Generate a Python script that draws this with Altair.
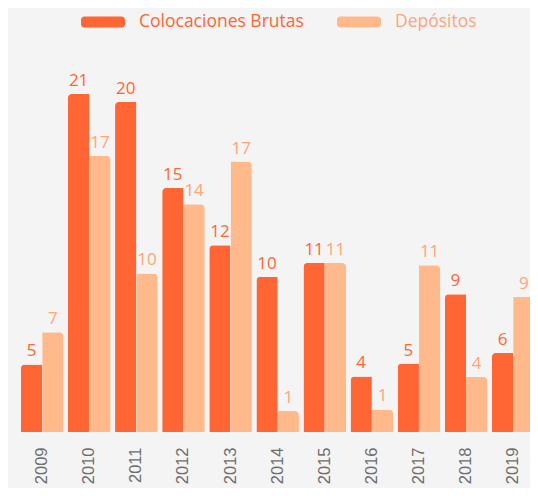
import altair as alt
import pandas as pd

anios = ["2009", "2010", "2011", "2012", "2013", "2014", "2015", "2016", "2017", "2018", "2019"]
series = ["Colocaciones Brutas", "Depósitos"]
colocaciones = [4.2, 21.0, 20.5, 15.15, 11.6, 9.65, 10.5, 3.45, 4.25, 8.55, 4.9]
depositos = [6.2, 17.15, 9.85, 14.15, 16.8, 1.3, 10.5, 1.4, 10.35, 3.42, 8.38]
etiquetas_col = ["5", "21", "20", "15", "12", "10", "11", "4", "5", "9", "6"]
etiquetas_dep = ["7", "17", "10", "14", "17", "1", "11", "1", "11", "4", "9"]
colores_barras = ["#FF6633", "#FFB98A"]
colores_texto = ["#FF6633", "#FFA577"]

rows = []
for i, a in enumerate(anios):
    rows.append({"anio": a, "serie": series[0], "valor": colocaciones[i], "etiqueta": etiquetas_col[i]})
    rows.append({"anio": a, "serie": series[1], "valor": depositos[i], "etiqueta": etiquetas_dep[i]})
df = pd.DataFrame(rows)

FONT = "Open Sans"
sym = ("M-0.85,-0.25H0.85A0.15,0.15,0,0,1,1,-0.1V0.1A0.15,0.15,0,0,1,0.85,0.25"
       "H-0.85A0.15,0.15,0,0,1,-1,0.1V-0.1A0.15,0.15,0,0,1,-0.85,-0.25Z")

x = alt.X("anio:N", sort=anios, title=None,
          scale=alt.Scale(range=[0, 518.1], paddingInner=0.096, paddingOuter=0.048),
          axis=alt.Axis(labelAngle=-90, ticks=False, domain=False, labelPadding=15,
                        labelFont="Liberation Sans", labelFontSize=16.5, labelColor="#6E6E6E",
                        grid=False))
xoff = alt.XOffset("serie:N", sort=series, scale=alt.Scale(paddingInner=0, paddingOuter=0))
y = alt.Y("valor:Q", scale=alt.Scale(domain=[0, 22], nice=False), axis=None)
color = alt.Color("serie:N", sort=series,
                  scale=alt.Scale(domain=series, range=colores_barras),
                  legend=alt.Legend(title=None, orient="none", legendX=62.4, legendY=-78,
                                    direction="horizontal", symbolType=sym, symbolSize=1936,
                                    symbolStrokeWidth=0, symbolOpacity=1,
                                    labelFont=FONT, labelFontSize=17.5, labelOffset=14,
                                    labelLimit=400, columnPadding=33,
                                    labelColor={"expr": "datum.label == 'Depósitos' ? '%s' : '%s'" % (colores_texto[1], colores_texto[0])}))

base = alt.Chart(df)
bars_col = base.transform_filter(alt.datum.serie == series[0]).mark_bar(
    cornerRadiusTopLeft=4, opacity=1).encode(x=x, xOffset=xoff, y=y, color=color)
bars_dep = base.transform_filter(alt.datum.serie == series[1]).mark_bar(
    cornerRadiusTopRight=4, opacity=1).encode(x=x, xOffset=xoff, y=y, color=color)
labels = base.mark_text(baseline="alphabetic", dy=-8, font=FONT, fontSize=17).encode(
    x=x, xOffset=xoff, y=y, text="etiqueta:N",
    color=alt.condition(alt.datum.serie == series[0], alt.value(colores_texto[0]), alt.value(colores_texto[1])))

chart = alt.layer(bars_col, bars_dep, labels).properties(
    width=511.4, height=354.2,
    padding={"left": 10.6, "top": 69.8, "right": 0, "bottom": 56},
    autosize=alt.AutoSizeParams(type="none"),
    background="#F4F4F4",
).configure_view(stroke=None)

chart.save("out.html", embed_options={"renderer": "svg", "actions": False})
